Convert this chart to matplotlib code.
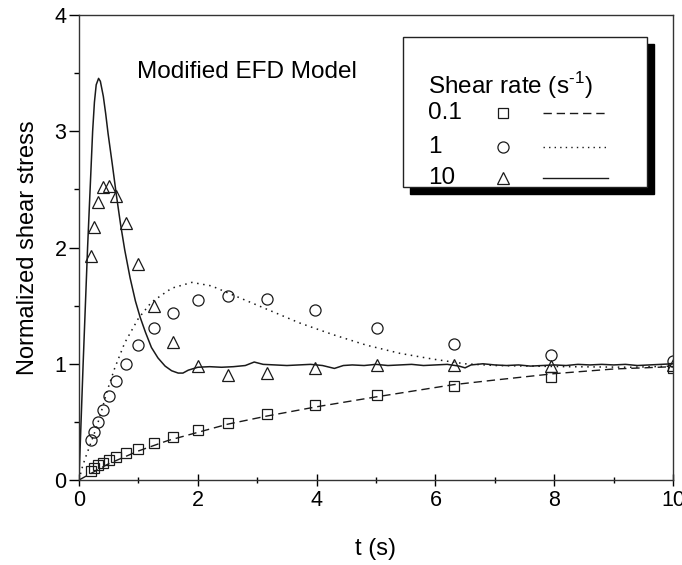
import matplotlib
matplotlib.use('Agg')
import matplotlib.pyplot as plt
from matplotlib.patches import Rectangle
from matplotlib.ticker import MultipleLocator

plt.rcParams['font.family'] = ['Liberation Sans', 'DejaVu Sans']
plt.rcParams['mathtext.fontset'] = 'custom'
plt.rcParams['mathtext.rm'] = 'Liberation Sans'

# experimental data (same sampling times for all three shear rates)
t_exp = [0.2, 0.25, 0.32, 0.4, 0.5, 0.63, 0.79, 1.0, 1.26, 1.58,
         2.0, 2.51, 3.16, 3.98, 5.01, 6.31, 7.94, 10.0]
exp_01 = [0.08, 0.10, 0.125, 0.15, 0.175, 0.20, 0.235, 0.27, 0.32, 0.37,
          0.43, 0.49, 0.57, 0.645, 0.73, 0.81, 0.89, 0.96]
exp_1 = [0.34, 0.41, 0.50, 0.60, 0.72, 0.85, 1.0, 1.16, 1.31, 1.44,
         1.55, 1.58, 1.56, 1.46, 1.31, 1.17, 1.075, 1.02]
exp_10 = [1.93, 2.18, 2.39, 2.52, 2.53, 2.44, 2.21, 1.86, 1.50, 1.19,
          0.98, 0.90, 0.92, 0.96, 0.99, 0.99, 0.98, 0.99]

# model curves (modified EFD)
t_m01 = [0, 0.5, 1.0, 1.5, 2.0, 2.5, 3.16, 4.0, 5.0, 6.3, 7.0, 8.0, 9.0, 10.0]
m_01 = [0, 0.14, 0.25, 0.34, 0.41, 0.48, 0.55, 0.63, 0.715, 0.82, 0.86, 0.915, 0.955, 0.975]

t_m1 = [0, 0.05, 0.1, 0.2, 0.3, 0.4, 0.47, 0.6, 0.77, 1.0, 1.22, 1.56, 1.9, 2.23,
        2.6, 3.16, 3.72, 4.28, 4.84, 5.4, 5.96, 6.5, 7.0, 8.2, 9.3, 10.0]
m_1 = [0, 0.1, 0.18, 0.32, 0.46, 0.63, 0.76, 0.96, 1.18, 1.39, 1.53, 1.65, 1.70, 1.67,
       1.59, 1.47, 1.35, 1.25, 1.16, 1.09, 1.04, 1.0, 0.985, 0.975, 0.97, 0.98]

t_m10 = [0, 0.07, 0.145, 0.23, 0.26, 0.29, 0.33, 0.36, 0.41, 0.45, 0.49, 0.56, 0.63,
         0.7, 0.77, 0.86, 0.95, 1.03, 1.12, 1.22, 1.33, 1.45, 1.56, 1.67, 1.75, 1.84,
         2.0, 2.2, 2.4, 2.6, 2.8, 2.95, 3.1, 3.3, 3.5, 3.7, 3.9, 4.1, 4.3, 4.45, 4.6,
         4.8, 5.0, 5.2, 5.4, 5.6, 5.8, 6.0, 6.2, 6.4, 6.5, 6.6, 6.8, 7.0, 7.2, 7.4,
         7.6, 7.8, 8.0, 8.2, 8.4, 8.6, 8.8, 9.0, 9.2, 9.4, 9.6, 9.8, 10.0]
m_10 = [0, 1.0, 2.0, 3.0, 3.25, 3.40, 3.455, 3.43, 3.30, 3.15, 2.98, 2.72, 2.45,
        2.2, 1.98, 1.74, 1.54, 1.40, 1.27, 1.14, 1.05, 0.98, 0.94, 0.92, 0.92, 0.945,
        0.97, 0.975, 0.97, 0.975, 0.985, 1.015, 0.995, 0.99, 0.985, 0.99, 0.995, 0.985, 0.96, 0.985, 0.99,
        0.985, 0.995, 0.985, 0.99, 0.995, 0.985, 0.99, 0.995, 0.98, 0.965, 0.99, 1.0, 0.99, 0.985, 0.99,
        0.98, 0.985, 0.99, 0.985, 0.995, 0.99, 0.995, 0.99, 0.995, 0.985, 0.99, 0.995, 1.0]

fig = plt.figure(figsize=(6.82, 5.65), dpi=100)
ax = fig.add_axes([0.1158, 0.1504, 0.871, 0.823])

lc = '#1a1a1a'
mk = dict(linestyle='none', markerfacecolor='none', markeredgecolor=lc, markeredgewidth=0.9)

ax.plot(t_m01, m_01, color=lc, lw=1.0, dashes=(6, 3.5))
ax.plot(t_m1, m_1, color=lc, lw=1.1, linestyle=(0, (1, 3.0)))
ax.plot(t_m10, m_10, color=lc, lw=1.1)

ax.plot(t_exp, exp_01, marker='s', markersize=7, **mk)
ax.plot(t_exp, exp_1, marker='o', markersize=8, **mk)
ax.plot(t_exp, exp_10, marker='^', markersize=9, **mk)

ax.set_xlim(0, 10)
ax.set_ylim(0, 4)
ax.xaxis.set_major_locator(MultipleLocator(2))
ax.xaxis.set_minor_locator(MultipleLocator(1))
ax.yaxis.set_major_locator(MultipleLocator(1))
ax.yaxis.set_minor_locator(MultipleLocator(0.5))
ax.tick_params(axis='x', which='major', direction='inout', length=9, width=1, labelsize=15.5, pad=3)
ax.tick_params(axis='x', which='minor', direction='inout', length=5, width=1)
ax.tick_params(axis='y', which='major', direction='out', length=7, width=1, labelsize=15.5, pad=2)
ax.tick_params(axis='y', which='minor', direction='out', length=3.5, width=1)
for s in ax.spines.values():
    s.set_linewidth(1.0)
    s.set_color('#333333')

ax.set_xlabel('t (s)', fontsize=17, labelpad=19)
ax.set_ylabel('Normalized shear stress', fontsize=17, labelpad=11)

ax.text(0.0976, 0.877, 'Modified EFD Model', transform=ax.transAxes, fontsize=17.5,
        va='center', ha='left')

# legend box with black drop shadow
bx0, by0, bw, bh = 0.545, 0.630, 0.411, 0.323
ax.add_patch(Rectangle((bx0 + 0.0118, by0 - 0.015), bw, bh, transform=ax.transAxes,
                       facecolor='black', edgecolor='black', zorder=5))
ax.add_patch(Rectangle((bx0, by0), bw, bh, transform=ax.transAxes,
                       facecolor='white', edgecolor='#222222', lw=1.0, zorder=6))
ax.text(0.5875, 0.849, r'Shear rate (s$^{\text{-1}}$)', transform=ax.transAxes,
        fontsize=17.5, va='center', ha='left', zorder=7)

leg_labels = ['0.1', '1', '10']
leg_markers = ['s', 'o', '^']
leg_msize = [7, 8, 9]
leg_styles = [dict(dashes=(6, 3.5)), dict(linestyle=(0, (1, 3.0))), dict()]
leg_y = [0.789, 0.716, 0.649]
for lab, m, ms, st, yy in zip(leg_labels, leg_markers, leg_msize, leg_styles, leg_y):
    ax.text(0.5875, yy, lab, transform=ax.transAxes, fontsize=17.5, va='center',
            ha='left', zorder=7)
    ax.plot([0.714], [yy], transform=ax.transAxes, marker=m, markersize=ms,
            clip_on=False, zorder=7, **mk)
    ax.plot([0.781, 0.891], [yy, yy], transform=ax.transAxes, color=lc, lw=1.0,
            clip_on=False, zorder=7, **st)

fig.savefig('out.png', dpi=100)
